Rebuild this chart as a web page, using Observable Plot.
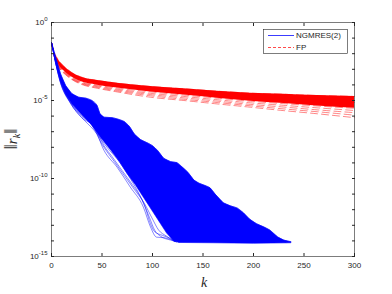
<!DOCTYPE html>
<html><head><meta charset="utf-8">
<script src="https://cdn.jsdelivr.net/npm/d3@7"></script>
<script src="https://cdn.jsdelivr.net/npm/@observablehq/plot@0.6"></script>
<style>
body{margin:0;background:#fff}
#wrap{position:relative;width:392px;height:294px}
</style>
</head><body><div id="wrap"></div>
<script>
// ---- data: [k, log10 ||r_k||] ----
const xTicks = [0, 50, 100, 150, 200, 250, 300];
const yDecades = [0,-1,-2,-3,-4,-5,-6,-7,-8,-9,-10,-11,-12,-13,-14,-15];
const yLabelled = [0,-5,-10,-15];

// NGMRES(2): slowest runs (upper edge of the bundle)
const blueUpper = [[0,-1.28],[4,-2.2],[9,-3.3],[14,-4.04],[20,-4.55],[27,-4.79],[34,-4.85],[40,-5.0],[45,-5.3],[48,-5.85],[52,-6.07],[60,-6.1],[66,-6.2],[72,-6.35],[77,-6.65],[82,-7.15],[88,-7.5],[96,-7.75],[100,-7.9],[105,-8.2],[111,-8.7],[118,-8.92],[124,-8.98],[130,-9.3],[135,-9.6],[141,-10.1],[146,-10.3],[152,-10.45],[157,-10.6],[162,-11.0],[170,-11.55],[177,-11.75],[184,-11.9],[190,-12.2],[196,-12.6],[203,-12.9],[210,-13.1],[216,-13.3],[224,-13.75],[230,-13.95],[237,-14.05]];
// floor reached by all runs
const blueFloor = [[237,-14.12],[200,-14.15],[160,-14.12],[126,-14.1]];
// lower edge of the dense core of the bundle
const blueCoreLower = [[126,-14.08],[121,-14.0],[114,-13.5],[108,-12.9],[100,-12.1],[91,-11.2],[83,-10.4],[75,-9.7],[67,-8.9],[59,-8.2],[49,-7.4],[39,-6.5],[33,-6.1],[27,-5.7],[20,-5.2],[14,-4.6],[9,-3.8],[4,-2.6],[0,-1.28]];
// individual fast runs
const blueRun1 = [[0,-1.28],[9,-3.9],[19,-5.2],[30,-6.1],[42,-6.7],[52,-8.2],[65,-9.28],[78,-10.55],[91,-11.84],[98,-13.1],[104,-13.76],[112,-13.8],[124,-14.08]];
const blueRun2 = [[0,-1.28],[9,-3.85],[19,-5.15],[30,-6.0],[40,-6.6],[50,-7.8],[62,-8.9],[72,-9.8],[82,-10.7],[92,-11.6],[100,-12.6],[106,-13.3],[114,-13.7],[122,-14.05]];
const blueRun3 = [[0,-1.28],[9,-3.85],[19,-5.1],[30,-5.95],[38,-6.4],[44,-6.9],[52,-7.9],[60,-8.6],[70,-9.5],[80,-10.4],[90,-11.4],[97,-12.5],[102,-13.3],[108,-13.7],[118,-13.95],[126,-14.08]];
const blueRun4 = [[0,-1.28],[10,-3.9],[20,-5.3],[30,-6.1],[42,-6.9],[55,-8.0],[68,-9.0],[78,-10.0],[86,-10.9],[93,-11.9],[98,-12.9],[102,-13.4],[110,-13.65],[118,-13.85],[123,-14.05]];
const blueRun5 = [[0,-1.28],[9,-3.75],[20,-5.05],[32,-6.0],[44,-6.8],[56,-7.7],[68,-8.6],[80,-9.8],[92,-10.9],[104,-12.0],[114,-12.9],[122,-13.6],[128,-14.05]];
const blueRun6 = [[130,-9.45],[141,-10.2],[152,-10.6],[162,-11.1],[172,-11.7],[184,-12.05],[196,-12.75],[210,-13.25],[224,-13.85],[232,-14.1]];

// FP: red dashed bundle (same k for every run)
const redK    = [0,    3,    7,    14,   20,   32,   44,   65,   98,   131,  164,  197,  230,  263,  300];
const redTop  = [-1.28,-1.95,-2.4, -2.9, -3.2, -3.55,-3.7, -3.89,-4.1, -4.25,-4.4, -4.53,-4.6, -4.68,-4.74];
const redMid  = [-1.28,-2.05,-2.55,-3.05,-3.35,-3.7, -3.85,-4.05,-4.28,-4.45,-4.62,-4.78,-4.9, -5.0, -5.12];
const redCore = [-1.28,-2.15,-2.7, -3.2, -3.5, -3.85,-4.0, -4.2, -4.45,-4.65,-4.85,-5.05,-5.2, -5.35,-5.5];
const redA    = [-1.28,-2.18,-2.74,-3.24,-3.54,-3.9, -4.05,-4.27,-4.54,-4.74,-4.95,-5.15,-5.31,-5.47,-5.64];
const redB    = [-1.28,-2.2, -2.78,-3.28,-3.58,-3.94,-4.1, -4.33,-4.62,-4.83,-5.04,-5.25,-5.42,-5.6, -5.78];
const redC    = [-1.28,-2.23,-2.82,-3.32,-3.62,-3.98,-4.15,-4.39,-4.7, -4.92,-5.13,-5.34,-5.54,-5.72,-5.94];
const redLow  = [-1.28,-2.25,-2.85,-3.35,-3.65,-4.02,-4.2, -4.45,-4.79,-5.0, -5.22,-5.43,-5.65,-5.85,-6.1];

const legendLabels = ["NGMRES(2)", "FP"];
const BLUE = "#0000ff", RED = "#ff0000", AX = "#262626";

// ---- build tables ----
const pts = (arr) => arr.map(([k, v]) => ({k, r: Math.pow(10, v)}));
const bluePoly = pts([...blueUpper, ...blueFloor, ...blueCoreLower]);
const blueRuns = [blueUpper, blueRun1, blueRun2, blueRun3, blueRun4, blueRun5, blueRun6]
  .flatMap((arr, i) => arr.map(([k, v]) => ({k, r: Math.pow(10, v), run: i})));
const redBand = redK.map((k, i) => ({k, top: Math.pow(10, redTop[i]), core: Math.pow(10, redCore[i])}));
const redRuns = [redTop, redMid, redCore, redA, redB, redC, redLow]
  .flatMap((arr, j) => arr.map((v, i) => ({k: redK[i], r: Math.pow(10, v), run: j})));

const chart = Plot.plot({
  width: 392, height: 294,
  marginLeft: 51, marginRight: 38, marginTop: 22, marginBottom: 38,
  x: {domain: [0, 300]},
  y: {type: "log", domain: [1e-15, 1]},
  style: {fontFamily: "'Liberation Sans', Arial, sans-serif", fontSize: "8px", color: AX, background: "white", overflow: "visible"},
  marks: [
    // FP
    Plot.areaY(redBand, {x: "k", y1: "top", y2: "core", fill: RED, curve: "monotone-x"}),
    Plot.line(redRuns, {x: "k", y: "r", z: "run", stroke: RED, strokeWidth: 0.8, strokeOpacity: 0.6, strokeDasharray: "7,4", curve: "monotone-x"}),
    // NGMRES(2)
    Plot.line(bluePoly, {x: "k", y: "r", fill: BLUE, stroke: BLUE, strokeWidth: 0.6, curve: "linear"}),
    Plot.line(blueRuns, {x: "k", y: "r", z: "run", stroke: BLUE, strokeWidth: 0.6, strokeOpacity: 0.8, curve: "monotone-x"}),
    // box + ticks
    Plot.frame({stroke: AX, strokeWidth: 0.6}),
    Plot.axisX({ticks: xTicks, tickSize: -3, tickPadding: 9, stroke: AX, label: null, tickFormat: d => String(d)}),
    Plot.axisX({anchor: "top", ticks: xTicks, tickSize: -3, stroke: AX, label: null, tickFormat: () => ""}),
    Plot.axisY({ticks: yDecades.map(e => Math.pow(10, e)), tickSize: -3, tickPadding: 7, stroke: AX, label: null,
      tickFormat: d => { const e = Math.round(Math.log10(d)); return yLabelled.includes(e) ? "10^" + e : ""; }}),
    Plot.axisY({anchor: "right", ticks: yDecades.map(e => Math.pow(10, e)), tickSize: -3, stroke: AX, label: null, tickFormat: () => ""})
  ]
});
document.getElementById("wrap").appendChild(chart);

// superscript exponents on y tick labels
const svg = d3.select(chart);
svg.selectAll("text").each(function() {
  const t = this.textContent;
  if (t.startsWith("10^")) {
    const e = t.slice(3);
    const s = d3.select(this);
    s.text("");
    s.append("tspan").text("10");
    s.append("tspan").attr("dy", "-4").attr("font-size", "6px").text(e);
  }
});

// axis titles
svg.append("text").attr("x", 204).attr("y", 287)
  .attr("text-anchor", "middle").attr("font-family", "'Liberation Serif', 'DejaVu Serif', serif")
  .attr("font-style", "italic").attr("font-size", "14px").attr("fill", AX).text("k");
const yl = svg.append("text").attr("transform", "translate(17,139) rotate(-90)")
  .attr("text-anchor", "middle").attr("font-family", "'Liberation Serif', 'DejaVu Serif', serif")
  .attr("font-size", "19px").attr("fill", AX);
yl.append("tspan").text("\u2016");
yl.append("tspan").attr("font-style", "italic").attr("font-size", "15px").text("r");
yl.append("tspan").attr("font-style", "italic").attr("font-size", "10px").attr("dy", "3").text("k");
yl.append("tspan").attr("dy", "-3").text("\u2016");

// legend
const lg = svg.append("g");
lg.append("rect").attr("x", 263.5).attr("y", 29.5).attr("width", 84).attr("height", 24)
  .style("fill", "white").style("stroke", AX).style("stroke-width", "0.6px");
[["#3c3cff", null], ["#ff4b4b", "3,2"]].forEach(([c, dash], i) => {
  const y = 35.5 + i * 12;
  const ln = lg.append("path").attr("d", `M268,${y}H294`)
    .style("fill", "none").style("stroke", c).style("stroke-width", "1px");
  if (dash) ln.style("stroke-dasharray", dash);
  lg.append("text").attr("x", 296).attr("y", y).attr("dy", "0.35em").attr("text-anchor", "start")
    .attr("font-size", "8px").style("fill", AX).text(legendLabels[i]);
});
</script>
</body></html>
